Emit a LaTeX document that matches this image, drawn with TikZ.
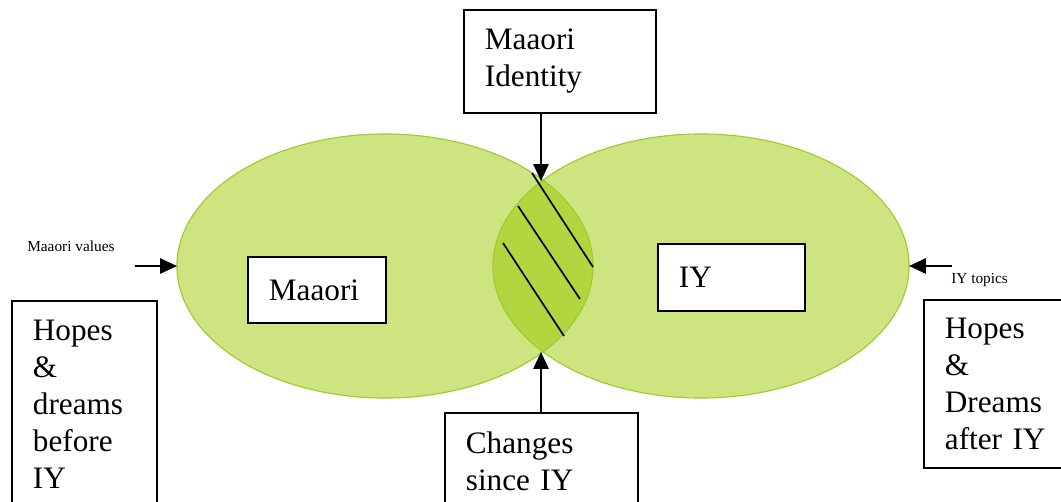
\documentclass[tikz,border=0pt]{standalone}
\usepackage{fontspec}
\setmainfont{Liberation Serif}
\usetikzlibrary{shapes.geometric,arrows.meta}

\definecolor{vennfill}{RGB}{205,228,128}
\definecolor{vennline}{RGB}{158,203,45}
\definecolor{lensfill}{RGB}{177,214,64}

\newcommand{\bigtext}{\fontsize{22.2}{26.3}\selectfont}
\newcommand{\smalltext}{\fontsize{10.9}{12}\selectfont}

\tikzset{
  venn/.style={ellipse,minimum width=10.4cm,minimum height=6.6cm,inner sep=0pt,outer sep=0pt,fill=vennfill},
  box/.style={draw,line width=1.3pt,fill=white,align=left,anchor=north west,font=\bigtext,inner xsep=0.525cm},
  label/.style={font=\smalltext,anchor=base west,inner sep=0pt},
  arrow/.style={line width=1.4pt,-{Triangle[length=0.42cm,width=0.38cm]}}
}

\begin{document}
\begin{tikzpicture}[x=0.025cm,y=-0.025cm]
  \useasboundingbox (0,0) rectangle (1061,501);

  % the two sets
  \node[venn] (maaoriset) at (385,266) {};
  \node[venn] (iyset) at (701,266) {};
  \begin{scope}
    \clip (385,266) ellipse [x radius=5.2cm,y radius=3.3cm];
    \fill[lensfill] (701,266) ellipse [x radius=5.2cm,y radius=3.3cm];
  \end{scope}
  \draw[vennline,line width=0.8pt] (385,266) ellipse [x radius=5.2cm,y radius=3.3cm];
  \draw[vennline,line width=0.8pt] (701,266) ellipse [x radius=5.2cm,y radius=3.3cm];
  \coordinate (lenstop) at (541,181);
  \coordinate (lensbot) at (541,352);

  \draw[line width=1.2pt] (532,173) -- (593,267);
  \draw[line width=1.2pt] (518,206) -- (580,299);
  \draw[line width=1.2pt] (503,243) -- (564,336);

  % boxes
  \node[box,text width=3.75cm,minimum height=2.575cm] (identity) at (463,9) {Maaori\\Identity};
  \node[box,text width=2.4cm,minimum height=1.65cm] (maaori) at (247,256) {Maaori};
  \node[box,text width=2.625cm,minimum height=1.675cm] (iy) at (657,243) {IY};
  \node[box,text width=3.775cm,inner ysep=0.475cm] (changes) at (444,412) {Changes\\since IY};
  \node[box,text width=2.575cm,inner ysep=0.475cm] (before) at (11,300) {Hopes\\\&\\dreams\\before\\IY};
  \node[box,text width=2.9cm,minimum height=4.2cm] (after) at (923,299) {Hopes\\\&\\Dreams\\after IY};

  \node[label] (values) at (27,251) {Maaori values};
  \node[label] (topics) at (951,283) {IY topics};
  \coordinate (valuesstart) at (135,266);
  \coordinate (topicsstart) at (952,266);

  \draw[arrow] (valuesstart) -- (maaoriset.west);
  \draw[arrow] (topicsstart) -- (iyset.east);
  \draw[arrow] (identity.south -| lenstop) -- (lenstop);
  \draw[arrow] (changes.north -| lensbot) -- (lensbot);
\end{tikzpicture}
\end{document}
